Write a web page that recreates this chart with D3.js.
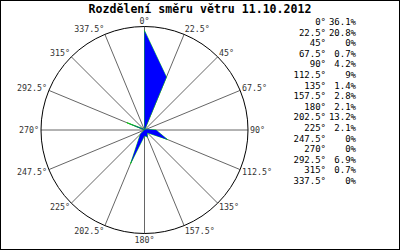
<!DOCTYPE html>
<html>
<head>
<meta charset="utf-8">
<script src="https://cdn.jsdelivr.net/npm/d3@7"></script>
<style>
  body { margin: 0; background: #fff; }
  svg { display: block; }
  text { font-family: "DejaVu Sans Mono", monospace; }
</style>
</head>
<body>
<script>
// wind direction sectors and share of time (%)
var directions = [0, 22.5, 45, 67.5, 90, 112.5, 135, 157.5, 180, 202.5, 225, 247.5, 270, 292.5, 315, 337.5];
var shares = [36.1, 20.8, 0, 0.7, 4.2, 9, 1.4, 2.8, 2.1, 13.2, 2.1, 0, 0, 6.9, 0.7, 0];
var shareLabels = ["36.1%", "20.8%", "0%", "0.7%", "4.2%", "9%", "1.4%", "2.8%", "2.1%", "13.2%", "2.1%", "0%", "0%", "6.9%", "0.7%", "0%"];
var title = "Rozdělení směru větru 11.10.2012";

var width = 400, height = 250;
var cx = 144.5, cy = 130, radius = 103.5;

var svg = d3.select("body").append("svg")
    .attr("width", width)
    .attr("height", height);

// frame
svg.append("rect")
    .attr("x", 0.5).attr("y", 0.5)
    .attr("width", width - 1).attr("height", height - 1)
    .style("fill", "#fff").style("stroke", "#000");

var t = svg.append("text")
    .attr("x", 200).attr("y", 13)
    .attr("text-anchor", "middle")
    .style("font-size", "12px")
    .style("font-weight", "bold")
    .text(title);
// stretch title to the width seen in the original
var tw = t.node().getComputedTextLength();
t.style("font-size", (12 * 223 / tw) + "px");

var r = d3.scaleLinear().domain([0, 37.6]).range([0, radius]);
var ang = d3.scaleLinear().domain([0, 360]).range([0, 2 * Math.PI]);

var g = svg.append("g").attr("transform", "translate(" + cx + "," + cy + ")");

// spokes
g.selectAll(".spoke")
    .data(directions)
  .enter().append("line")
    .attr("class", "spoke")
    .attr("x1", 0).attr("y1", 0)
    .attr("x2", function(d) { return radius * Math.sin(ang(d)); })
    .attr("y2", function(d) { return -radius * Math.cos(ang(d)); })
    .style("stroke", "#666")
    .style("stroke-width", 1);

g.append("circle")
    .attr("r", radius)
    .style("fill", "none")
    .style("stroke", "#000");

// the rose
var line = d3.lineRadial()
    .angle(function(d, i) { return ang(directions[i]); })
    .radius(function(d) { return r(d); })
    .curve(d3.curveLinearClosed);

g.append("path")
    .attr("d", line(shares))
    .style("fill", "none")
    .style("stroke", "#00dd00")
    .style("stroke-width", 0.8);

g.append("path")
    .attr("d", line(shares))
    .style("fill", "#0000ff")
    .style("stroke", "none");

// spoke labels
g.selectAll(".lbl")
    .data(directions)
  .enter().append("text")
    .attr("class", "lbl")
    .attr("x", function(d) {
        var s = Math.sin(ang(d));
        return (radius + 2) * s;
    })
    .attr("y", function(d) {
        var c = Math.cos(ang(d));
        return -radius * c - c * 6 + 3;
    })
    .attr("text-anchor", function(d) {
        var s = Math.sin(ang(d));
        return s > 0.01 ? "start" : (s < -0.01 ? "end" : "middle");
    })
    .style("font-size", "8.3px")
    .style("fill", "#333")
    .text(function(d) { return d + "°"; });

// legend table
var rows = svg.selectAll(".row")
    .data(directions)
  .enter().append("g")
    .attr("class", "row")
    .attr("transform", function(d, i) { return "translate(0," + (25 + i * 10.6) + ")"; });

rows.append("text")
    .attr("x", 326)
    .attr("text-anchor", "end")
    .style("font-size", "9px")
    .text(function(d) { return d + "°"; });

rows.append("text")
    .attr("x", 356)
    .attr("text-anchor", "end")
    .style("font-size", "9px")
    .text(function(d, i) { return shareLabels[i]; });
</script>
</body>
</html>
